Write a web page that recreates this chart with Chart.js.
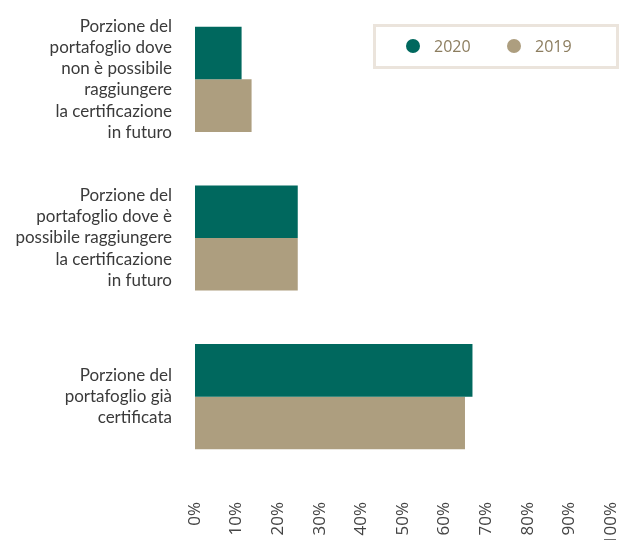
<!DOCTYPE html>
<html>
<head>
<meta charset="utf-8">
<script src="https://cdn.jsdelivr.net/npm/chart.js@4/dist/chart.umd.min.js"></script>
<style>
  html, body { margin: 0; padding: 0; background: #ffffff; }
  #wrap { width: 622px; height: 540px; position: relative; overflow: hidden; }
</style>
</head>
<body>
<div id="wrap"><canvas id="chart"></canvas></div>
<script>
// Categories (multi-line labels)
const categories = [
  ["Porzione del", "portafoglio dove", "non è possibile", "raggiungere", "la certificazione", "in futuro"],
  ["Porzione del", "portafoglio dove è", "possibile raggiungere", "la certificazione", "in futuro"],
  ["Porzione del", "portafoglio già", "certificata"]
];

// Series values (%)
const values2020 = [11.2, 24.7, 66.7];
const values2019 = [13.6, 24.7, 64.9];

const seriesNames = ["2020", "2019"];
const seriesColors = ["#00685e", "#ad9e7f"];

// X axis ticks: 0% .. 100%
const tickMin = 0;
const tickMax = 100;
const tickStep = 10;

const labelFont = "Lato, 'Open Sans', sans-serif";

// Boxed legend drawn in the upper right corner
const boxedLegend = {
  id: 'boxedLegend',
  afterDraw(chart) {
    const ctx = chart.ctx;
    ctx.save();
    ctx.strokeStyle = '#ebe4dc';
    ctx.lineWidth = 3;
    ctx.strokeRect(374.5, 25.5, 243, 42);
    const items = chart.data.datasets.map(d => ({ label: d.label, color: d.backgroundColor }));
    const xs = [413, 514];
    ctx.font = "16px 'Open Sans', sans-serif";
    ctx.textBaseline = 'middle';
    ctx.textAlign = 'left';
    items.forEach((it, i) => {
      ctx.fillStyle = it.color;
      ctx.beginPath();
      ctx.arc(xs[i], 46, 7, 0, Math.PI * 2);
      ctx.fill();
      ctx.fillStyle = '#8c7d5f';
      ctx.fillText(it.label, xs[i] + 21, 47);
    });
    ctx.restore();
  }
};

// Axes keep a fixed size and do not reserve extra room for their outer labels
function noEdgePadding(scale) {
  scale.paddingTop = 0;
  scale.paddingBottom = 0;
  scale.paddingLeft = 0;
  scale.paddingRight = 0;
}

new Chart(document.getElementById('chart'), {
  type: 'bar',
  data: {
    labels: categories,
    datasets: [
      { label: seriesNames[0], data: values2020, backgroundColor: seriesColors[0] },
      { label: seriesNames[1], data: values2019, backgroundColor: seriesColors[1] }
    ]
  },
  options: {
    indexAxis: 'y',
    responsive: true,
    maintainAspectRatio: false,
    animation: false,
    events: [],
    layout: { padding: { top: -4, left: 0, right: 11, bottom: 0 } },
    datasets: {
      bar: { barPercentage: 1, categoryPercentage: 0.6625, borderWidth: 0 }
    },
    plugins: {
      legend: { display: false },
      tooltip: { enabled: false }
    },
    scales: {
      x: {
        min: tickMin,
        max: tickMax,
        grid: { display: false, drawTicks: false },
        border: { display: false },
        afterFit(scale) { scale.height = 64; noEdgePadding(scale); },
        ticks: {
          stepSize: tickStep,
          minRotation: 90,
          maxRotation: 90,
          padding: 26,
          color: '#444444',
          font: { family: "'Open Sans', sans-serif", size: 17 },
          callback: v => v + '%'
        }
      },
      y: {
        grid: { display: false, drawTicks: false },
        border: { display: false },
        afterFit(scale) { scale.width = 195; noEdgePadding(scale); },
        ticks: {
          padding: 23,
          color: '#3a3a3a',
          font: { family: labelFont, size: 17, lineHeight: 1.25 }
        }
      }
    }
  },
  plugins: [boxedLegend]
});
</script>
</body>
</html>
